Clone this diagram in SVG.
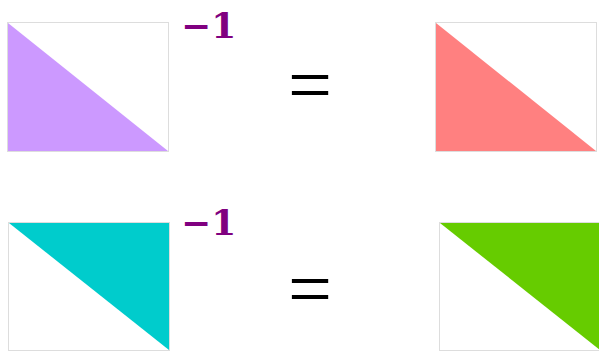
<svg xmlns="http://www.w3.org/2000/svg" width="599" height="352" viewBox="0 0 599 352">
<style>
.frame{fill:#fff;stroke:#dddddd;stroke-width:1}
.exp{font-family:"DejaVu Serif",serif;font-weight:bold;font-size:36px;fill:#800080}
.eq{font-family:"Liberation Serif",serif;font-size:78px;fill:#000;text-anchor:middle}
</style>
<rect width="599" height="352" fill="#fff"/>
<g id="top-left">
<rect class="frame" x="7.5" y="22.5" width="161" height="129"/>
<polygon points="8,23 8,151 168,151" fill="#cc99ff"/>
<text class="exp" x="181" y="38">−1</text>
</g>
<g id="top-eq"><text class="eq" x="310" y="111">=</text></g>
<g id="top-right">
<rect class="frame" x="435.5" y="22.5" width="161" height="129"/>
<polygon points="436,23 436,151 596,151" fill="#ff8080"/>
</g>
<g id="bottom-left">
<rect class="frame" x="8.5" y="222.5" width="161" height="128"/>
<polygon points="9,223 169,223 169,350" fill="#00cccc"/>
<text class="exp" x="181" y="235">−1</text>
</g>
<g id="bottom-eq"><text class="eq" x="310" y="315">=</text></g>
<g id="bottom-right">
<rect class="frame" x="439.5" y="222.5" width="161" height="128"/>
<polygon points="440,223 600,223 600,350" fill="#66cc00"/>
</g>
<g id="connectors"></g>
</svg>
